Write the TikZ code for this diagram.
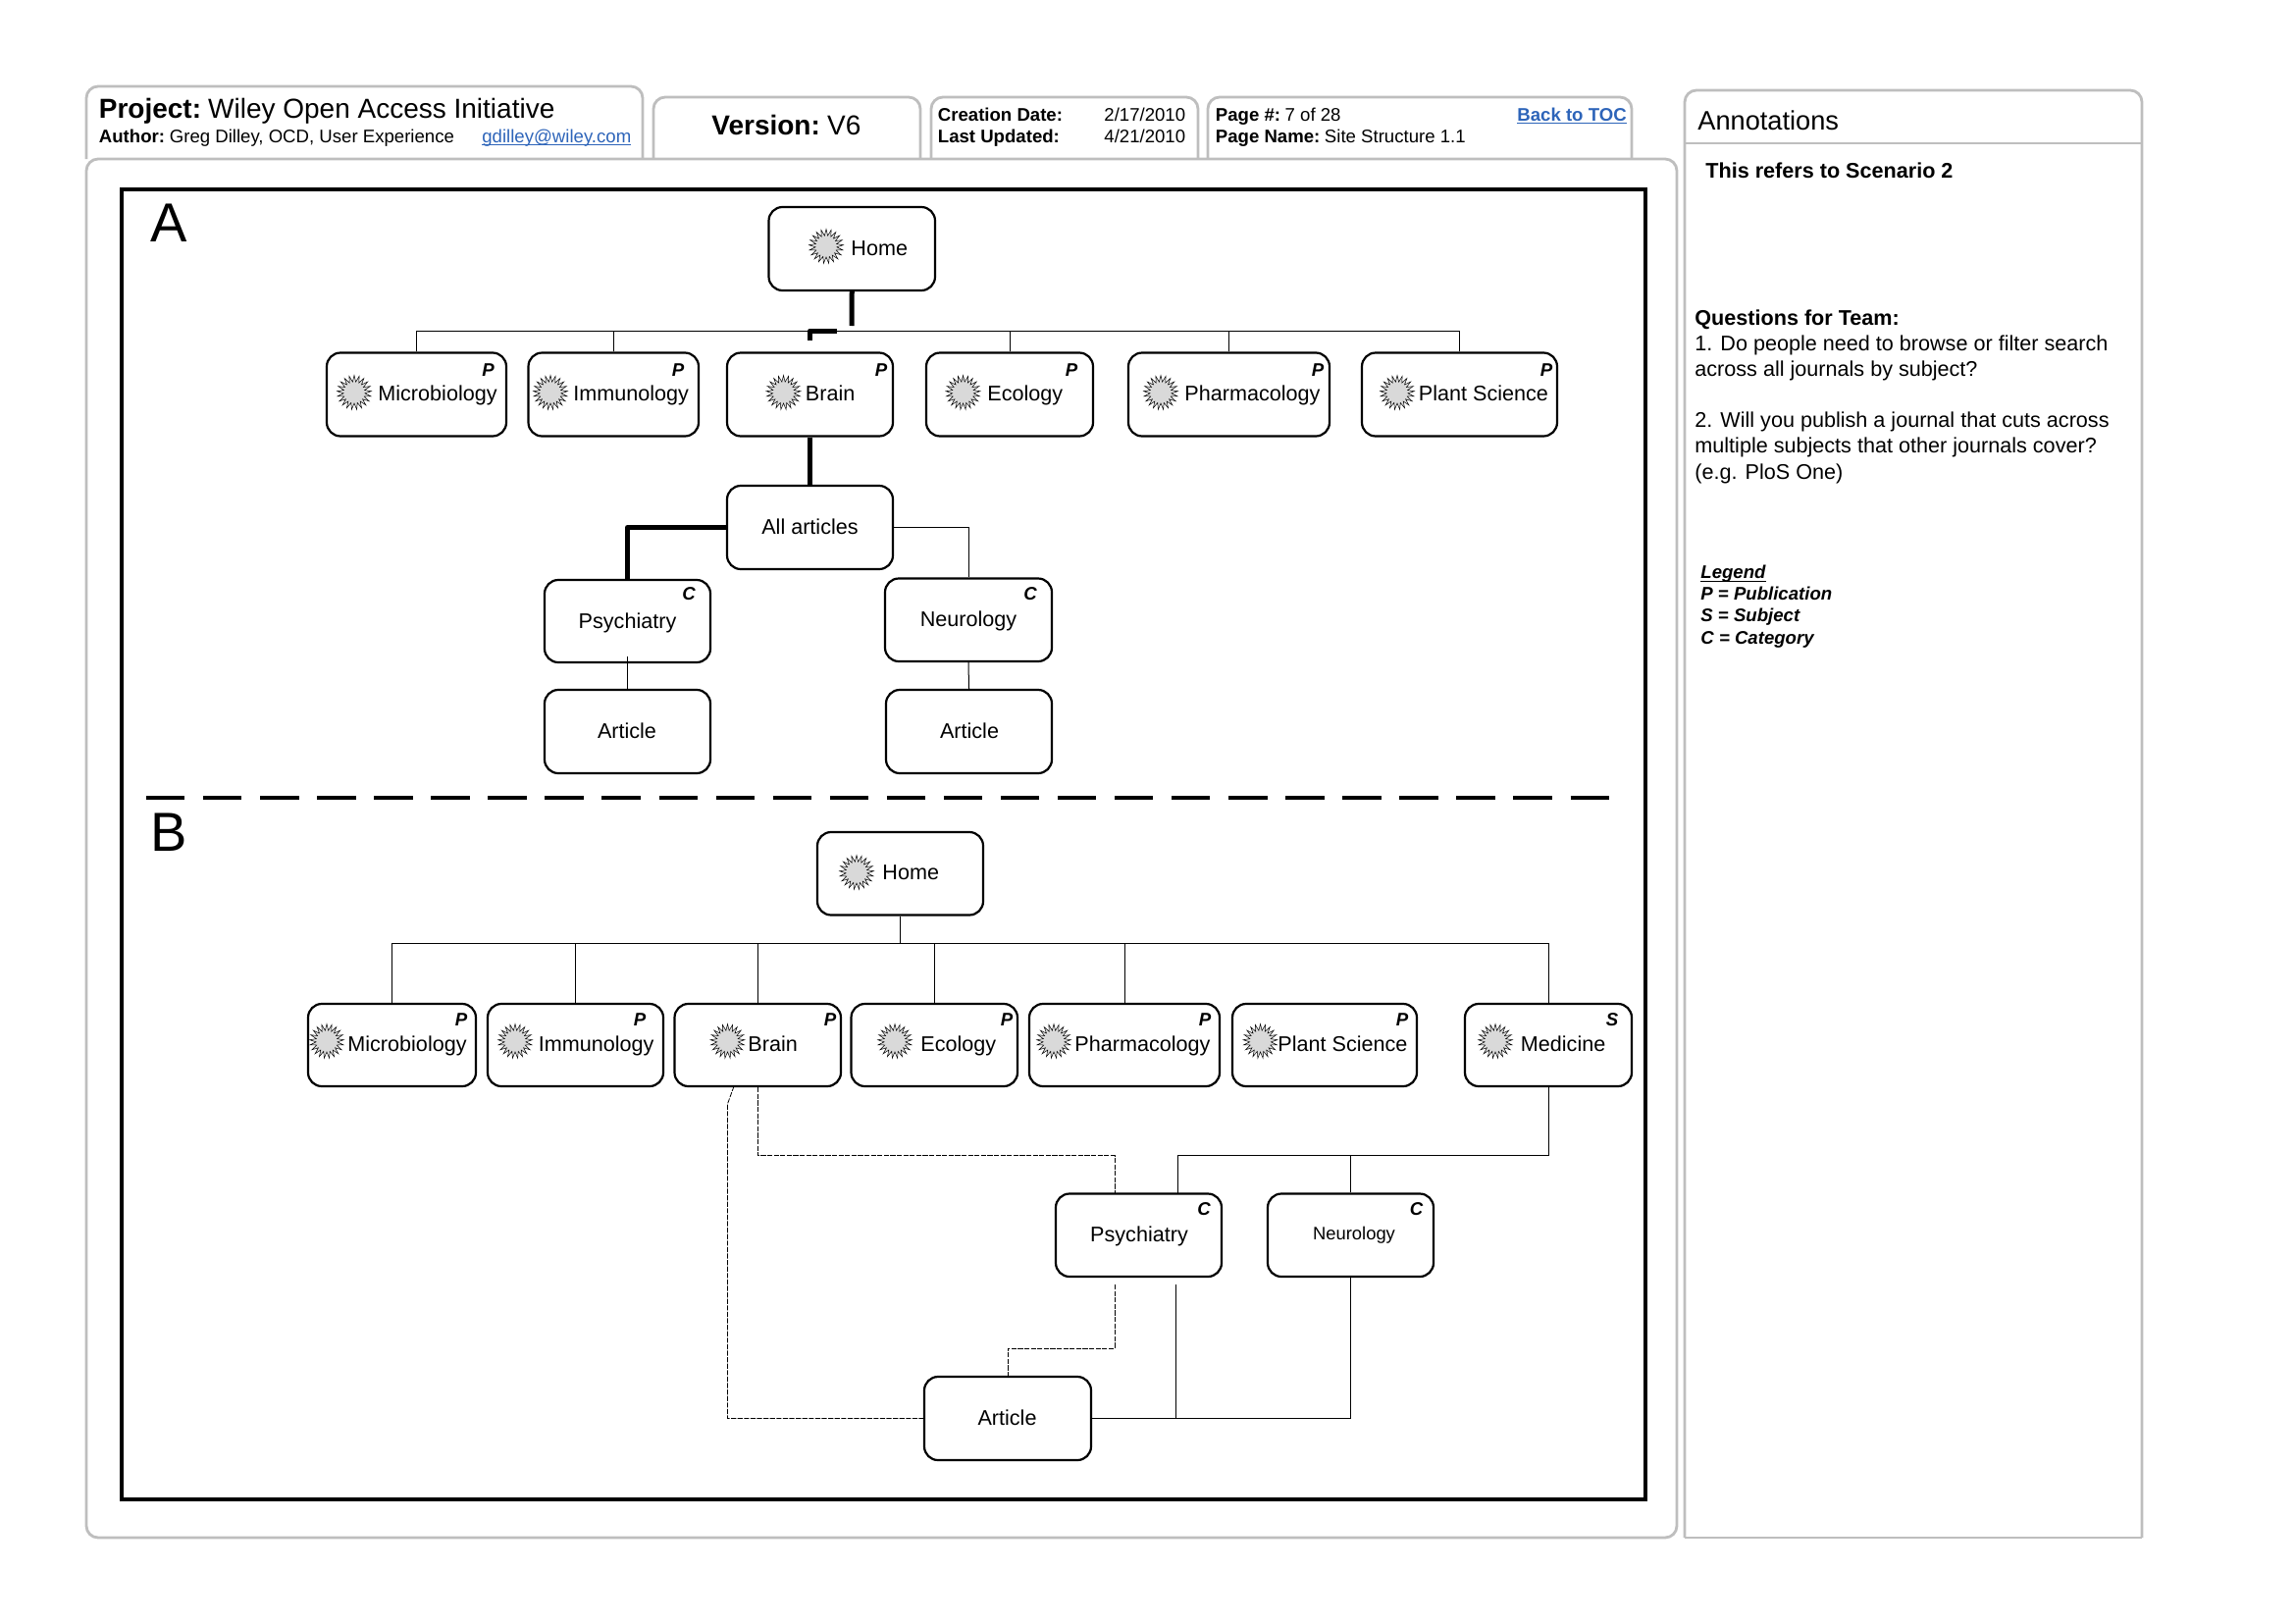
\documentclass[tikz,border=0pt]{standalone}
\usepackage{fontspec}
\setmainfont{Liberation Sans}
\usetikzlibrary{shapes.geometric}
\definecolor{panelgray}{RGB}{190,190,190}
\definecolor{linkblue}{RGB}{45,100,185}
\tikzset{
  pagebox/.style={draw, rounded corners=7pt, line width=1.1pt, inner sep=0pt},
  burst/.style={star, star points=21, star point ratio=1.6, draw, fill=black!15, line width=0.25pt, minimum size=17.5pt, inner sep=0pt},
  thinlink/.style={line width=0.5pt},
  boldlink/.style={line width=2.5pt, line join=round},
  dashlink/.style={line width=0.4pt, dash pattern=on 2.6pt off 0.7pt},
  tabline/.style={draw=panelgray, line width=1.4pt, rounded corners=6pt},
  boxtext/.style={font=\fontsize{10.8}{13}\selectfont, inner sep=0pt},
  tagtext/.style={font=\fontsize{9.3}{11}\selectfont\bfseries\itshape, inner sep=0pt},
  headbig/.style={font=\fontsize{14}{16}\selectfont, inner sep=0pt, anchor=base west},
  headsmall/.style={font=\fontsize{9.3}{11}\selectfont, inner sep=0pt, anchor=base west},
  weblink/.style={headsmall, text=linkblue},
  bigletter/.style={font=\fontsize{28}{30}\selectfont, inner sep=0pt, anchor=base west},
  notetext/.style={font=\fontsize{10.8}{13.2}\selectfont, inner sep=0pt, align=left},
}
\newcommand*{\placebox}[5]{\node[pagebox, minimum width={(#3-#2)*0.5pt}, minimum height={(#5-#4)*0.5pt}] (#1) at ({(#2+#3)/2},{(#4+#5)/2}) {};}
\newcommand*{\ruled}[1]{\underline{\smash{#1}}}
\begin{document}
\begin{tikzpicture}[x=0.5pt,y=-0.5pt]
\useasboundingbox (0,0) rectangle (2339,1654);

% header tabs and panels
\draw[tabline] (88,162) -- (88,88) -- (655,88) -- (655,162);
\draw[tabline] (666,162) -- (666,99) -- (938,99) -- (938,162);
\draw[tabline] (949,162) -- (949,99) -- (1221,99) -- (1221,162);
\draw[tabline] (1231,162) -- (1231,99) -- (1663,99) -- (1663,162);
\draw[tabline, fill=white] (88,162) rectangle (1709,1567);
\draw[tabline] (1717,1567) -- (1717,92) -- (2183,92) -- (2183,1567);
\draw[draw=panelgray, line width=1.4pt] (1717,1567) -- (2183,1567);
\draw[draw=panelgray, line width=1.4pt] (1717,146) -- (2183,146);

\node[headbig] (project) at (100.5,120) {\textbf{Project:}\hspace{3.5pt}Wiley Open Access Initiative};
\node[headsmall] (author) at (100.5,145) {\textbf{Author:}\hspace{2.4pt}Greg Dilley, OCD, User Experience};
\node[weblink] (email) at (491,145) {\ruled{gdilley@wiley.com}};
\node[headbig] (version) at (725,137) {\textbf{Version:}\hspace{3.6pt}V6};
\node[headsmall] (created) at (955.5,123) {\textbf{Creation Date:}};
\node[headsmall] (updated) at (955.5,145) {\textbf{Last Updated:}};
\node[headsmall] (createdate) at (1125,123) {2/17/2010};
\node[headsmall] (updatedate) at (1125,145) {4/21/2010};
\node[headsmall] (pagenum) at (1238.5,123) {\textbf{Page \#:}\hspace{2.3pt}7 of 28};
\node[headsmall] (pagename) at (1238.5,145) {\textbf{Page Name:}\hspace{2.3pt}Site Structure 1.1};
\node[weblink, font=\fontsize{9.3}{11}\selectfont\bfseries] (toc) at (1546,123) {\ruled{Back to TOC}};

% notes
\node[headbig, font=\fontsize{13.6}{16}\selectfont] (annot) at (1730,132) {Annotations};
\node[notetext, anchor=base west] (scenario) at (1738,181.5) {\textbf{This refers to Scenario 2}};
\node[notetext, anchor=north west] (questions) at (1727,315) {\textbf{Questions for Team:}\\
1. Do people need to browse or filter search\\
across all journals by subject?\\[12.6pt]
2. Will you publish a journal that cuts across\\
multiple subjects that other journals cover?\\
(e.g. PloS One)};
\node[notetext, anchor=north west, font=\fontsize{9.3}{11.1}\selectfont\bfseries\itshape] (legend) at (1733,589) {\ruled{Legend}\\
P = Publication\\
S = Subject\\
C = Category};

% diagram frame
\draw[line width=2pt] (123.5,193) rectangle (1677,1528);
\node[bigletter] (letterA) at (153,246) {A};
\node[bigletter] (letterB) at (153,867) {B};
\coordinate (dashL) at (149,813);
\coordinate (dashR) at (1652,813);
\draw[line width=1.8pt, dash pattern=on 19.7pt off 9.33pt] (dashL) -- (dashR);

% scenario A
\placebox{homeA}{783.5}{953}{211}{296}
\node[burst] (homeA-icon) at (842,251) {};
\node[boxtext, anchor=base west] (homeA-text) at (867,260) {Home};
\foreach \n/\xa/\xb/\ix/\lx/\tx/\lab in {
  microA/333/516/361/385/497.5/Microbiology,
  immunoA/538.5/712/561/584/691/Immunology,
  brainA/741/910/798.5/820.5/898/Brain,
  ecoA/944/1114/981.5/1006/1092/Ecology,
  pharmA/1150/1355/1183/1207/1343/Pharmacology,
  plantA/1388/1587/1424/1445.5/1576/{Plant Science}}
{
  \placebox{\n}{\xa}{\xb}{359.5}{444.5}
  \node[burst] (\n-icon) at (\ix,400) {};
  \node[boxtext, anchor=base west] (\n-text) at (\lx,408) {\lab};
  \node[tagtext, anchor=base] (\n-tag) at (\tx,383) {P};
}
\placebox{allA}{741}{910}{495}{580}
\node[boxtext, anchor=base] (allA-text) at (825.5,544) {All articles};
\placebox{psychA}{555}{724}{591}{675}
\node[boxtext, anchor=base] (psychA-text) at (639.5,640) {Psychiatry};
\node[tagtext, anchor=base] (psychA-tag) at (702,611) {C};
\placebox{neuroA}{902}{1072}{589.5}{674}
\node[boxtext, anchor=base] (neuroA-text) at (987,638) {Neurology};
\node[tagtext, anchor=base] (neuroA-tag) at (1050,611) {C};
\placebox{artA}{555}{724}{703}{788}
\node[boxtext, anchor=base] (artA-text) at (639,752) {Article};
\placebox{artB}{903}{1072}{703}{788}
\node[boxtext, anchor=base] (artB-text) at (988,752) {Article};

\coordinate (busA) at (868,337);
\coordinate (stubA) at (853,337);
\coordinate (homeEndA) at (868,332);
\coordinate (brainEndA) at (825.5,347);
\foreach \n in {microA,immunoA,ecoA,pharmA,plantA}
  \draw[thinlink] (\n.north) |- (busA);
\draw[boldlink] (homeA.south) -- (homeEndA);
\draw[boldlink] (brainEndA) |- (stubA);
\draw[boldlink] (brainA.south) -- (allA.north);
\draw[boldlink] (allA.west) -| (psychA.north);
\draw[thinlink] (allA.east) -| (neuroA.north);
\draw[thinlink] ([yshift=3.5pt]psychA.south) -- (artA.north);
\draw[thinlink] (neuroA.south) -- (artB.north);

% scenario B
\placebox{homeB}{833}{1002}{848}{932.5}
\node[burst] (homeB-icon) at (873,889) {};
\node[boxtext, anchor=base west] (homeB-text) at (899,896) {Home};
\foreach \n/\xa/\xb/\ix/\lx/\tx/\tagch/\lab in {
  microB/314/485/333/354/470/P/Microbiology,
  immunoB/497/676/525/548.5/652/P/Immunology,
  brainB/687.5/857/741.5/762/846/P/Brain,
  ecoB/867.5/1037/912/938/1026/P/Ecology,
  pharmB/1049/1243/1074/1095/1228/P/Pharmacology,
  plantB/1256/1444/1284.5/1302/1429/P/{Plant Science},
  mediB/1493/1663/1524/1549.5/1643/S/Medicine}
{
  \placebox{\n}{\xa}{\xb}{1023}{1107}
  \node[burst] (\n-icon) at (\ix,1061) {};
  \node[boxtext, anchor=base west] (\n-text) at (\lx,1071) {\lab};
  \node[tagtext, anchor=base] (\n-tag) at (\tx,1045) {\tagch};
}
\placebox{psychB}{1076}{1245}{1216.5}{1301}
\node[boxtext, anchor=base] (psychB-text) at (1161,1265.5) {Psychiatry};
\node[tagtext, anchor=base] (psychB-tag) at (1227,1238) {C};
\placebox{neuroB}{1292}{1461}{1216.5}{1301}
\node[boxtext, anchor=base, font=\fontsize{9.2}{11}\selectfont] (neuroB-text) at (1380,1263.5) {Neurology};
\node[tagtext, anchor=base] (neuroB-tag) at (1443.5,1238) {C};
\placebox{artC}{942}{1112}{1403}{1488}
\node[boxtext, anchor=base] (artC-text) at (1026.5,1452) {Article};

\coordinate (busB) at (917.5,961.5);
\foreach \n in {microB,immunoB,brainB,ecoB,pharmB,mediB}
  \draw[thinlink] (\n.north) |- (busB);
\draw[thinlink] (homeB.south) -- (busB);
\coordinate (mediBend) at (1578,1177.5);
\coordinate (psychBin) at (1200.5,1216.5);
\coordinate (psychBlow) at (1198.5,1309);
\coordinate (psychBtop) at (1136,1216.5);
\coordinate (psychBbot) at (1136,1309);
\coordinate (psychBmid) at (1027,1374);
\coordinate (brainBtop) at (748,1107);
\coordinate (brainBkink) at (741.5,1125);
\draw[thinlink] (mediB.south) -- (mediBend) -| (psychBin);
\draw[thinlink] (neuroB.north) -- (neuroB.north |- mediBend);
\draw[thinlink] (neuroB.south) |- (artC.east);
\draw[thinlink] (psychBlow) -- (psychBlow |- artC.east);
\draw[dashlink] (brainB.south) |- (psychBtop |- mediBend) -- (psychBtop);
\draw[dashlink] (psychBbot) |- (psychBmid) -- (artC.north);
\draw[dashlink] (brainBtop) -- (brainBkink) |- (artC.west);
\end{tikzpicture}
\end{document}
